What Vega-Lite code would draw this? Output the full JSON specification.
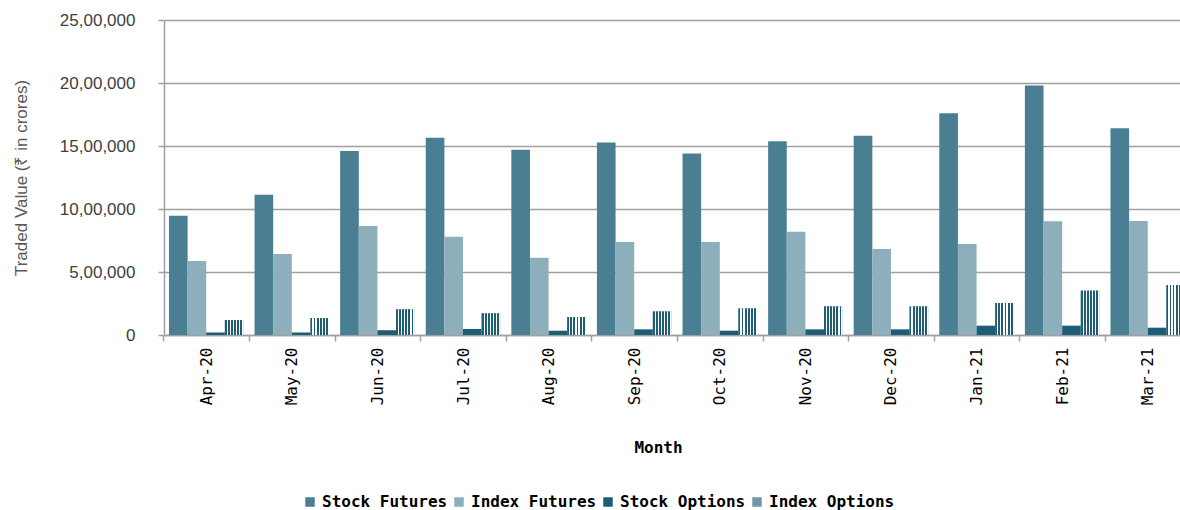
{
  "$schema": "https://vega.github.io/schema/vega-lite/v6.json",
  "width": 1016,
  "height": 315,
  "autosize": {"type": "none"},
  "padding": {"left": 164, "top": 20, "right": 0, "bottom": 175},
  "background": "white",
  "config": {"view": {"stroke": null}, "font": "Liberation Sans"},
  "data": {
    "values": [
      {"month": "Apr-20", "series": "Stock Futures", "value": 946000},
      {"month": "Apr-20", "series": "Index Futures", "value": 587000},
      {"month": "Apr-20", "series": "Stock Options", "value": 20000},
      {"month": "Apr-20", "series": "Index Options", "value": 119000},
      {"month": "May-20", "series": "Stock Futures", "value": 1113000},
      {"month": "May-20", "series": "Index Futures", "value": 643000},
      {"month": "May-20", "series": "Stock Options", "value": 20000},
      {"month": "May-20", "series": "Index Options", "value": 135000},
      {"month": "Jun-20", "series": "Stock Futures", "value": 1460000},
      {"month": "Jun-20", "series": "Index Futures", "value": 865000},
      {"month": "Jun-20", "series": "Stock Options", "value": 38000},
      {"month": "Jun-20", "series": "Index Options", "value": 204000},
      {"month": "Jul-20", "series": "Stock Futures", "value": 1566000},
      {"month": "Jul-20", "series": "Index Futures", "value": 780000},
      {"month": "Jul-20", "series": "Stock Options", "value": 48000},
      {"month": "Jul-20", "series": "Index Options", "value": 172000},
      {"month": "Aug-20", "series": "Stock Futures", "value": 1471000},
      {"month": "Aug-20", "series": "Index Futures", "value": 614000},
      {"month": "Aug-20", "series": "Stock Options", "value": 34000},
      {"month": "Aug-20", "series": "Index Options", "value": 143000},
      {"month": "Sep-20", "series": "Stock Futures", "value": 1527000},
      {"month": "Sep-20", "series": "Index Futures", "value": 738000},
      {"month": "Sep-20", "series": "Stock Options", "value": 45000},
      {"month": "Sep-20", "series": "Index Options", "value": 187000},
      {"month": "Oct-20", "series": "Stock Futures", "value": 1441000},
      {"month": "Oct-20", "series": "Index Futures", "value": 738000},
      {"month": "Oct-20", "series": "Stock Options", "value": 34000},
      {"month": "Oct-20", "series": "Index Options", "value": 211000},
      {"month": "Nov-20", "series": "Stock Futures", "value": 1537000},
      {"month": "Nov-20", "series": "Index Futures", "value": 820000},
      {"month": "Nov-20", "series": "Stock Options", "value": 45000},
      {"month": "Nov-20", "series": "Index Options", "value": 227000},
      {"month": "Dec-20", "series": "Stock Futures", "value": 1582000},
      {"month": "Dec-20", "series": "Index Futures", "value": 683000},
      {"month": "Dec-20", "series": "Stock Options", "value": 45000},
      {"month": "Dec-20", "series": "Index Options", "value": 227000},
      {"month": "Jan-21", "series": "Stock Futures", "value": 1759000},
      {"month": "Jan-21", "series": "Index Futures", "value": 722000},
      {"month": "Jan-21", "series": "Stock Options", "value": 74000},
      {"month": "Jan-21", "series": "Index Options", "value": 254000},
      {"month": "Feb-21", "series": "Stock Futures", "value": 1981000},
      {"month": "Feb-21", "series": "Index Futures", "value": 902000},
      {"month": "Feb-21", "series": "Stock Options", "value": 74000},
      {"month": "Feb-21", "series": "Index Options", "value": 352000},
      {"month": "Mar-21", "series": "Stock Futures", "value": 1640000},
      {"month": "Mar-21", "series": "Index Futures", "value": 905000},
      {"month": "Mar-21", "series": "Stock Options", "value": 58000},
      {"month": "Mar-21", "series": "Index Options", "value": 397000}
    ]
  },
  "encoding": {
    "x": {
      "field": "month",
      "type": "nominal",
      "sort": null,
      "scale": {"paddingInner": 0.129, "paddingOuter": 0.058, "range": [0, 1026]},
      "axis": {
        "title": "Month",
        "titleFont": "DejaVu Sans Mono",
        "titleFontSize": 16,
        "titleFontWeight": "bold",
        "titleColor": "#000000",
        "titleX": 494,
        "titleY": 112,
        "titleBaseline": "middle",
        "titleAlign": "center",
        "labelAngle": -90,
        "labelFont": "DejaVu Sans Mono",
        "labelFontSize": 16,
        "labelColor": "#000000",
        "labelPadding": 6,
        "tickOffset": -42.8,
        "labelOffset": 42.8,
        "tickSize": 6,
        "tickColor": "#a0a0a0",
        "tickWidth": 1.5,
        "domainColor": "#a0a0a0",
        "domainWidth": 1.5,
        "grid": false
      }
    },
    "xOffset": {
      "field": "series",
      "type": "nominal",
      "scale": {"domain": ["Stock Futures", "Index Futures", "Stock Options", "Index Options"], "paddingInner": 0, "paddingOuter": 0}
    },
    "y": {
      "field": "value",
      "type": "quantitative",
      "scale": {"domain": [0, 2500000], "nice": false},
      "axis": {
        "values": [0, 500000, 1000000, 1500000, 2000000, 2500000],
        "labelExpr": "datum.value == 0 ? '0' : format(datum.value / 100000, 'd') + ',00,000'",
        "labelFont": "Liberation Sans",
        "labelFontSize": 17,
        "labelColor": "#404040",
        "labelPadding": 23,
        "tickSize": 6,
        "tickColor": "#a0a0a0",
        "tickWidth": 1.5,
        "domainColor": "#a0a0a0",
        "domainWidth": 1.5,
        "gridColor": "#a0a0a0",
        "gridWidth": 1.5,
        "title": "Traded Value (₹ in crores)",
        "titleFont": "Liberation Sans",
        "titleFontSize": 17,
        "titleFontWeight": "normal",
        "titleColor": "#595959",
        "titleX": -143,
        "titleY": 157.5,
        "titleAlign": "center",
        "titleBaseline": "middle",
        "titleAngle": -90
      }
    }
  },
  "layer": [
    {
      "mark": {"type": "bar"},
      "encoding": {
        "color": {
          "field": "series",
          "type": "nominal",
          "sort": ["Stock Futures", "Index Futures", "Stock Options", "Index Options"],
          "scale": {
            "domain": ["Stock Futures", "Index Futures", "Stock Options", "Index Options"],
            "range": ["#4a7e93", "#8dafbb", "#1d5d76", "#6f97a8"]
          },
          "legend": {
            "orient": "none",
            "legendX": 138,
            "legendY": 474,
            "direction": "horizontal",
            "title": null,
            "symbolType": "square",
            "symbolSize": 90,
            "symbolStrokeWidth": 0,
            "labelFont": "DejaVu Sans Mono",
            "labelFontSize": 16,
            "labelFontWeight": "bold",
            "labelColor": "#000000",
            "labelOffset": 4,
            "columnPadding": 3,
            "padding": 0
          }
        }
      }
    },
    {
      "transform": [{"filter": "datum.series == 'Index Options'"}],
      "mark": {
        "type": "bar",
        "color": {
          "gradient": "linear",
          "x1": 0, "y1": 0, "x2": 1, "y2": 0,
          "stops": [
            {"offset": 0, "color": "#1d5d76"}, {"offset": 0.1, "color": "#1d5d76"}, {"offset": 0.1, "color": "#ffffff"}, {"offset": 0.1667, "color": "#ffffff"},
            {"offset": 0.1667, "color": "#1d5d76"}, {"offset": 0.2667, "color": "#1d5d76"}, {"offset": 0.2667, "color": "#ffffff"}, {"offset": 0.3333, "color": "#ffffff"},
            {"offset": 0.3333, "color": "#1d5d76"}, {"offset": 0.4333, "color": "#1d5d76"}, {"offset": 0.4333, "color": "#ffffff"}, {"offset": 0.5, "color": "#ffffff"},
            {"offset": 0.5, "color": "#1d5d76"}, {"offset": 0.6, "color": "#1d5d76"}, {"offset": 0.6, "color": "#ffffff"}, {"offset": 0.6667, "color": "#ffffff"},
            {"offset": 0.6667, "color": "#1d5d76"}, {"offset": 0.7667, "color": "#1d5d76"}, {"offset": 0.7667, "color": "#ffffff"}, {"offset": 0.8333, "color": "#ffffff"},
            {"offset": 0.8333, "color": "#1d5d76"}, {"offset": 0.9333, "color": "#1d5d76"}, {"offset": 0.9333, "color": "#ffffff"}, {"offset": 1, "color": "#ffffff"}
          ]
        }
      }
    }
  ]
}
